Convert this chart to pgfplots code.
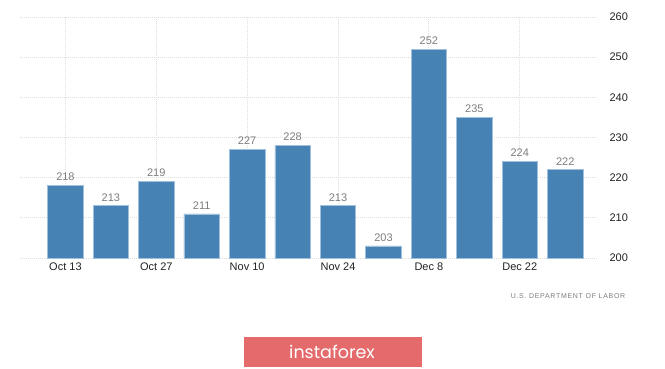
\documentclass[border=0pt]{standalone}
\usepackage{pgfplots}
\pgfplotsset{compat=1.18}
\usepackage{fontspec}
\setmainfont{Liberation Sans}
\newfontfamily\spaced[LetterSpace=10]{Liberation Sans}
\newfontfamily\logofont{Poppins}
\definecolor{barblue}{RGB}{70,130,180}
\definecolor{baredge}{RGB}{160,192,220}
\definecolor{gridgray}{RGB}{222,222,222}
\definecolor{valgray}{RGB}{125,125,125}
\definecolor{ticktext}{RGB}{35,35,35}
\definecolor{logored}{RGB}{228,106,108}
\begin{document}
\begin{tikzpicture}[x=1pt,y=1pt]
\path[use as bounding box, fill=white] (0,0) rectangle (665,368);
\begin{axis}[
  at={(20pt,110pt)}, anchor=south west,
  scale only axis, width=577pt, height=241pt,
  xmin=-1, xmax=11.7, ymin=200, ymax=260,
  ybar, bar width=35.5pt,
  axis line style={draw=none},
  major tick length=0pt,
  xtick={0,2,4,6,8,10},
  xticklabels={Oct 13,Oct 27,Nov 10,Nov 24,Dec 8,Dec 22},
  ytick={200,210,220,230,240,250,260},
  xmajorgrids, ymajorgrids,
  grid style={gridgray, dash pattern=on 1pt off 1pt, line width=0.9pt},
  yticklabel pos=right,
  /pgf/number format/assume math mode=true,
  yticklabel style={anchor=west, xshift=9pt, font=\fontsize{11}{13}\selectfont, text=ticktext},
  xticklabel style={font=\fontsize{11}{13}\selectfont, text=ticktext, yshift=-1pt},
  nodes near coords,
  every node near coord/.append style={font=\fontsize{11}{13}\selectfont, text=valgray, yshift=1pt},
]
\addplot[fill=barblue, draw=baredge, line width=0.6pt] coordinates {
(0,218) (1,213) (2,219) (3,211) (4,227) (5,228) (6,213) (7,203) (8,252) (9,235) (10,224) (11,222)};
\end{axis}
\node[text=valgray, font=\spaced\fontsize{7}{8}\selectfont] at (568,72) {U.S. DEPARTMENT OF LABOR};
\fill[logored] (244,1) rectangle (422,31);
\node[text=white, font=\logofont\fontsize{17.5}{20}\selectfont] at (332,16) {instaforex};
\end{tikzpicture}
\end{document}
